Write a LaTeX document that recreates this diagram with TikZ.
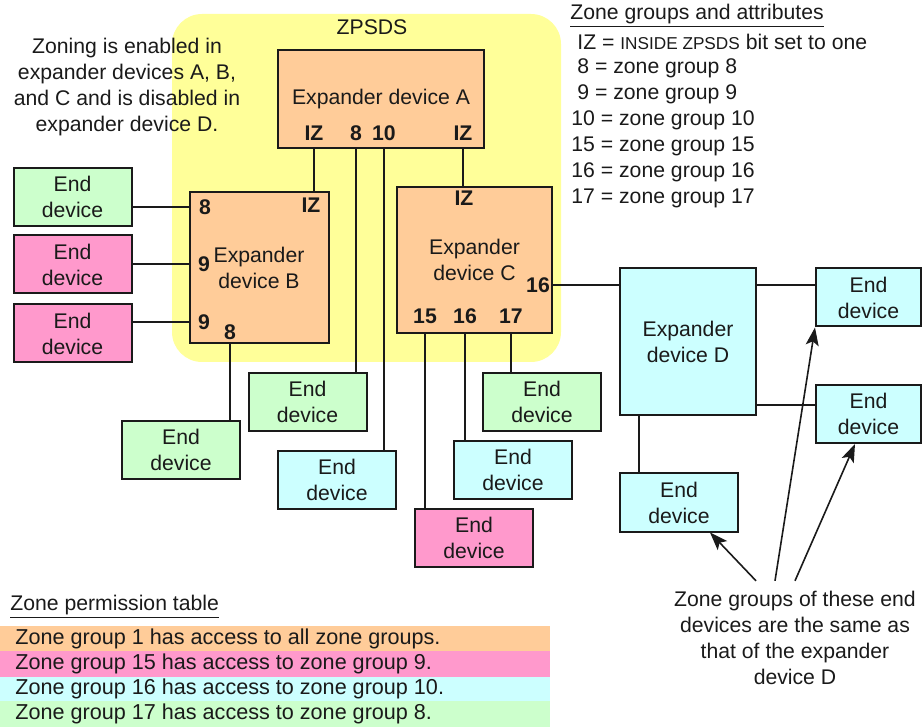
\documentclass[tikz,border=0pt]{standalone}
\usepackage{fontspec}
\setmainfont{Liberation Sans}
\usetikzlibrary{arrows.meta,positioning}
\definecolor{zone}{HTML}{FFFF99}
\definecolor{expfill}{HTML}{FFCC99}
\definecolor{zgpink}{HTML}{FF99CC}
\definecolor{zgcyan}{HTML}{CCFFFF}
\definecolor{zggreen}{HTML}{CCFFCC}
\definecolor{ink}{HTML}{1A1A1A}
\newcommand{\diagfont}{\fontsize{10.6}{13}\selectfont}
\tikzset{
  box/.style={draw=ink, line width=1pt, align=center, font=\diagfont, text=ink, inner sep=1pt},
  expbox/.style={box, fill=expfill},
  endbox/.style={box, fill=#1, minimum width=59pt, minimum height=29pt},
  port/.style={font=\diagfont\bfseries, text=ink, inner sep=0pt},
  wire/.style={draw=ink, line width=0.9pt},
  point/.style={-{Stealth[length=9pt,width=6.5pt,inset=2pt]}, draw=ink, line width=0.8pt},
  lbl/.style={font=\diagfont, text=ink, align=center, inner sep=0pt},
  band/.style={fill=#1, draw=none},
}
\begin{document}
\begin{tikzpicture}[x=0.5pt, y=-0.5pt]
  \useasboundingbox (0,0) rectangle (922,727);
  % ---------------- ZPSDS region ----------------
  \fill[zone, rounded corners=15pt] (172,14) rectangle (561,362);
  \node[lbl] (zpsds) at (372,27) {ZPSDS};
  \node[lbl] (zoning) at (127,87) {Zoning is enabled in\\expander devices A, B,\\and C and is disabled in\\expander device D.};

  % ---------------- expander devices ----------------
  \node[expbox, minimum width=103pt, minimum height=49pt] (A) at (381,99) {Expander device A};
  \node[expbox, minimum width=69.5pt, minimum height=75.5pt] (B) at (259,267.5) {Expander\\device B};
  \node[expbox, minimum width=77.5pt, minimum height=73pt] (C) at (474.5,260) {Expander\\device C};
  \node[box, fill=zgcyan, minimum width=68pt, minimum height=73.5pt] (D) at (688,341.5) {Expander\\device D};

  % port labels
  \node[port] (pAiz) at (314,133) {IZ};
  \node[port] (pA8) at (356,133) {8};
  \node[port] (pA10) at (384,133) {10};
  \node[port] (pAiz2) at (463,133) {IZ};
  \node[port] (pB8) at (205,207) {8};
  \node[port] (pBiz) at (311,205) {IZ};
  \node[port] (pB9a) at (204,264) {9};
  \node[port] (pB9b) at (204,322) {9};
  \node[port] (pB8b) at (230,332) {8};
  \node[port] (pCiz) at (464,198) {IZ};
  \node[port] (pC16r) at (538,285) {16};
  \node[port] (pC15) at (425,316) {15};
  \node[port] (pC16) at (465,316) {16};
  \node[port] (pC17) at (511,316) {17};

  % ---------------- end devices ----------------
  \node[endbox=zggreen] (edB8) at (72.5,197) {End\\device};
  \node[endbox=zgpink] (edB9a) at (72.5,264.5) {End\\device};
  \node[endbox=zgpink] (edB9b) at (72.5,333.5) {End\\device};
  \node[endbox=zggreen] (edB8b) at (181,450) {End\\device};
  \node[endbox=zggreen] (edA8) at (307.5,402) {End\\device};
  \node[endbox=zgcyan] (edA10) at (337,480) {End\\device};
  \node[endbox=zgpink] (edC15) at (474,538) {End\\device};
  \node[endbox=zgcyan] (edC16) at (513,470) {End\\device};
  \node[endbox=zggreen] (edC17) at (542,402) {End\\device};
  \node[endbox=zgcyan, minimum width=52.5pt] (edD1) at (868.5,297.5) {End\\device};
  \node[endbox=zgcyan, minimum width=52.5pt] (edD2) at (868.5,414) {End\\device};
  \node[endbox=zgcyan] (edD3) at (679,502.5) {End\\device};

  % ---------------- wires ----------------
  \draw[wire] (pAiz |- A.south) -- (pAiz |- B.north);
  \draw[wire] (pA8 |- A.south) -- (pA8 |- edA8.north);
  \draw[wire] (pA10 |- A.south) -- (pA10 |- edA10.north);
  \draw[wire] (pAiz2 |- A.south) -- (pAiz2 |- C.north);
  \draw[wire] (pB8 -| edB8.east) -- (pB8 -| B.west);
  \draw[wire] (pB9a -| edB9a.east) -- (pB9a -| B.west);
  \draw[wire] (pB9b -| edB9b.east) -- (pB9b -| B.west);
  \draw[wire] (pB8b |- B.south) -- (pB8b |- edB8b.north);
  \draw[wire] (pC15 |- C.south) -- (pC15 |- edC15.north);
  \draw[wire] (pC16 |- C.south) -- (pC16 |- edC16.north);
  \draw[wire] (pC17 |- C.south) -- (pC17 |- edC17.north);
  \draw[wire] (pC16r -| C.east) -- (pC16r -| D.west);
  \coordinate (dR1) at ([yshift=-9pt]D.north east);
  \coordinate (dR2) at ([yshift=5.5pt]D.south east);
  \coordinate (dB) at ([xshift=10pt]D.south west);
  \draw[wire] (dR1) -- (dR1 -| edD1.west);
  \draw[wire] (dR2) -- (dR2 -| edD2.west);
  \draw[wire] (dB) -- (dB |- edD3.north);

  % ---------------- legend ----------------
  \node[lbl, anchor=west] (zgtitle) at (570,16) {\underline{Zone groups and attributes}};
  \node[lbl, anchor=west] (zgiz) at (577,42) {IZ = {\fontsize{8.6}{10}\selectfont INSIDE ZPSDS} bit set to one};
  \foreach \g/\x/\y in {8/577/68, 9/577/94, 10/571/120, 15/571/146, 16/571/172, 17/571/198}
    \node[lbl, anchor=west] (zg\g) at (\x,\y) {\g{} = zone group \g};

  % ---------------- permission table ----------------
  \node[lbl, anchor=west] (pttitle) at (10,607) {\underline{Zone permission table}};
  \fill[band=expfill] (0,626) rectangle (550,651);
  \fill[band=zgpink] (0,651) rectangle (550,677);
  \fill[band=zgcyan] (0,677) rectangle (550,701);
  \fill[band=zggreen] (0,701) rectangle (550,727);
  \node[lbl, anchor=west, font=\fontsize{10.8}{13}\selectfont] (pt1) at (15,638.5) {Zone group 1 has access to all zone groups.};
  \node[lbl, anchor=west, font=\fontsize{10.8}{13}\selectfont] (pt15) at (15,664) {Zone group 15 has access to zone group 9.};
  \node[lbl, anchor=west, font=\fontsize{10.8}{13}\selectfont] (pt16) at (15,689) {Zone group 16 has access to zone group 10.};
  \node[lbl, anchor=west, font=\fontsize{10.8}{13}\selectfont] (pt17) at (15,714) {Zone group 17 has access to zone group 8.};

  % ---------------- note on expander D ----------------
  \node[lbl] (note) at (795,638) {Zone groups of these end\\devices are the same as\\that of the expander\\device D};
  \draw[point] ([shift={(-39,-10)}]note.north) -- ([xshift=15.5pt]edD3.south);
  \draw[point] ([shift={(-20,-10)}]note.north) -- (edD1.south west);
  \draw[point] ([shift={(0,-10)}]note.north) -- ([xshift=-6.75pt]edD2.south);
\end{tikzpicture}
\end{document}
